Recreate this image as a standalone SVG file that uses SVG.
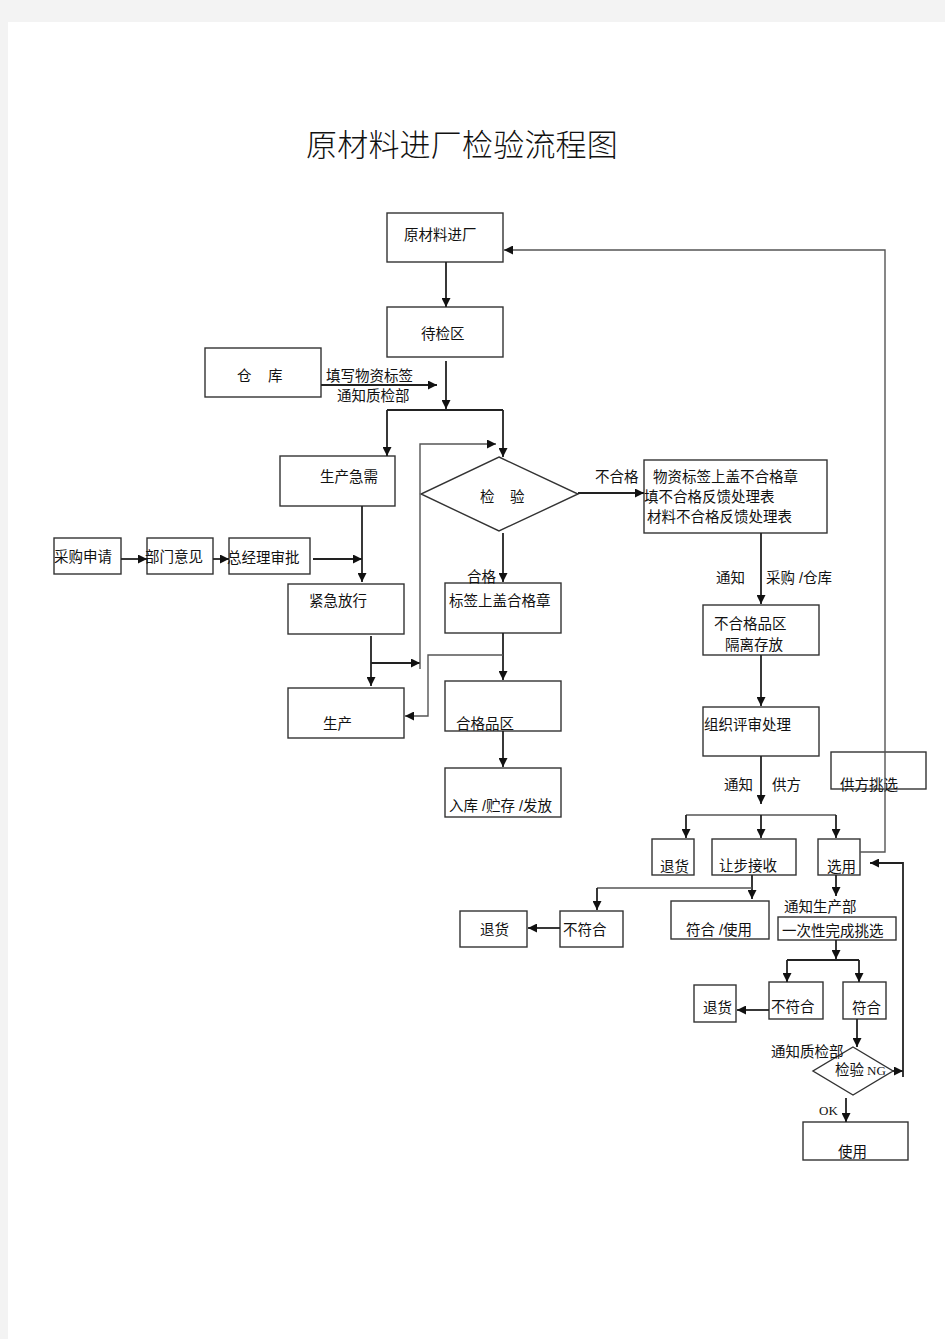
<svg xmlns="http://www.w3.org/2000/svg" width="945" height="1339" viewBox="0 0 945 1339">
<defs>
<style>
.bg{fill:#f3f3f3}
.page{fill:#fff}
.box{fill:#fff;stroke:#333;stroke-width:1.4}
.t{font-family:"Liberation Sans","Noto Sans CJK SC",sans-serif;font-size:14.5px;fill:#111}
.title{font-family:"Liberation Serif","Noto Sans CJK SC",serif;font-size:31px;fill:#111;font-weight:300;letter-spacing:0.2px}
.ln{fill:none;stroke:#222;stroke-width:1.8}
.lnt{fill:none;stroke:#555;stroke-width:1.4}
.arr{marker-end:url(#ah)}
.lat{font-family:"Liberation Serif",serif;font-size:13px}
</style>
<marker id="ah" markerUnits="userSpaceOnUse" markerWidth="9" markerHeight="9" refX="9" refY="4.5" orient="auto">
<path d="M0,0 L9,4.5 L0,9 z" fill="#111"/>
</marker>
</defs>
<rect class="bg" x="0" y="0" width="945" height="1339"/>
<rect class="page" x="8" y="22" width="937" height="1317"/>
<text class="title" x="306" y="156">原材料进厂检验流程图</text>

<g id="n1"><rect class="box" x="387" y="213" width="116" height="49"/><text class="t" x="404" y="240">原材料进厂</text></g>
<g id="n2"><rect class="box" x="387" y="307" width="116" height="50"/><text class="t" x="421" y="339">待检区</text></g>
<g id="n3"><rect class="box" x="205" y="348" width="116" height="49"/><text class="t" x="237" y="381">仓</text><text class="t" x="268" y="381">库</text></g>
<g id="n4"><rect class="box" x="280" y="456" width="115" height="50"/><text class="t" x="320" y="482">生产急需</text></g>
<g id="n5"><polygon class="box" points="499,457 578,494 499,531 421,494"/><text class="t" x="480" y="502">检</text><text class="t" x="510" y="502">验</text></g>
<g id="n6"><rect class="box" x="644" y="460" width="183" height="73"/><text class="t" x="653" y="482">物资标签上盖不合格章</text><text class="t" x="644" y="502">填不合格反馈处理表</text><text class="t" x="647" y="522">材料不合格反馈处理表</text></g>
<g id="n7"><rect class="box" x="54" y="538" width="67" height="36"/><text class="t" x="54" y="562">采购申请</text></g>
<g id="n8"><rect class="box" x="147" y="538" width="66" height="36"/><text class="t" x="145" y="562">部门意见</text></g>
<g id="n9"><rect class="box" x="229" y="538" width="81" height="36"/><text class="t" x="227" y="563">总经理审批</text></g>
<g id="n10"><rect class="box" x="288" y="584" width="116" height="50"/><text class="t" x="309" y="606">紧急放行</text></g>
<g id="n11"><rect class="box" x="445" y="583" width="116" height="50"/><text class="t" x="449" y="606">标签上盖合格章</text></g>
<g id="n12"><rect class="box" x="288" y="688" width="116" height="50"/><text class="t" x="323" y="729">生产</text></g>
<g id="n13"><rect class="box" x="445" y="681" width="116" height="50"/><text class="t" x="456" y="729">合格品区</text></g>
<g id="n14"><rect class="box" x="445" y="768" width="116" height="49"/><text class="t" x="449" y="811">入库 /贮存 /发放</text></g>
<g id="n15"><rect class="box" x="703" y="605" width="116" height="50"/><text class="t" x="714" y="629">不合格品区</text><text class="t" x="725" y="650">隔离存放</text></g>
<g id="n16"><rect class="box" x="703" y="707" width="116" height="49"/><text class="t" x="704" y="730">组织评审处理</text></g>
<g id="n17"><rect class="box" x="831" y="752" width="95" height="37"/><text class="t" x="840" y="790">供方挑选</text></g>
<g id="n18"><rect class="box" x="652" y="839" width="42" height="36"/><text class="t" x="660" y="872">退货</text></g>
<g id="n19"><rect class="box" x="712" y="839" width="84" height="36"/><text class="t" x="719" y="871">让步接收</text></g>
<g id="n20"><rect class="box" x="818" y="839" width="42" height="36"/><text class="t" x="827" y="872">选用</text></g>
<g id="n21"><rect class="box" x="460" y="911" width="67" height="36"/><text class="t" x="480" y="935">退货</text></g>
<g id="n22"><rect class="box" x="560" y="911" width="63" height="36"/><text class="t" x="563" y="935">不符合</text></g>
<g id="n23"><rect class="box" x="671" y="901" width="98" height="38"/><text class="t" x="686" y="935">符合 /使用</text></g>
<g id="n24"><rect class="box" x="778" y="917" width="118" height="23"/><text class="t" x="782" y="936">一次性完成挑选</text></g>
<g id="n25"><rect class="box" x="694" y="985" width="42" height="37"/><text class="t" x="703" y="1013">退货</text></g>
<g id="n26"><rect class="box" x="769" y="982" width="54" height="37"/><text class="t" x="771" y="1012">不符合</text></g>
<g id="n27"><rect class="box" x="843" y="982" width="43" height="37"/><text class="t" x="852" y="1013">符合</text></g>
<g id="n28"><polygon class="box" points="853,1047 893,1071 853,1095 813,1071"/><text class="t" x="835" y="1075">检验</text><text class="t lat" x="867" y="1075">NG</text></g>
<g id="n29"><rect class="box" x="803" y="1122" width="105" height="38"/><text class="t" x="838" y="1157">使用</text></g>

<g id="labels">
<text class="t" x="326" y="381">填写物资标签</text>
<text class="t" x="337" y="401">通知质检部</text>
<text class="t" x="595" y="482">不合格</text>
<text class="t" x="467" y="582">合格</text>
<text class="t" x="716" y="583">通知</text>
<text class="t" x="766" y="583">采购 /仓库</text>
<text class="t" x="724" y="790">通知</text>
<text class="t" x="772" y="790">供方</text>
<text class="t" x="784" y="912">通知生产部</text>
<text class="t" x="771" y="1057">通知质检部</text>
<text class="t lat" x="819" y="1115">OK</text>
</g>

<g id="connectors">
<path class="ln arr" d="M446,262 V307"/>
<path class="ln arr" d="M321,385 H437"/>
<path class="ln arr" d="M446,361 V409"/>
<path class="ln" d="M387,410 H503"/>
<path class="ln arr" d="M387,410 V456"/>
<path class="ln arr" d="M503,410 V457"/>
<path class="ln arr" d="M578,493 H644"/>
<path class="ln arr" d="M121,559 H147"/>
<path class="ln arr" d="M213,559 H229"/>
<path class="ln arr" d="M313,559 H362"/>
<path class="ln arr" d="M362,506 V582"/>
<path class="ln arr" d="M371,636 V686"/>
<path class="ln arr" d="M371,663 H420"/>
<path class="lnt arr" d="M420,669 V444 H496"/>
<path class="ln arr" d="M503,533 V582"/>
<path class="ln arr" d="M503,633 V680"/>
<path class="lnt arr" d="M503,655 H428 V716 H405"/>
<path class="ln arr" d="M503,731 V767"/>
<path class="ln arr" d="M761,533 V604"/>
<path class="ln arr" d="M761,655 V706"/>
<path class="ln arr" d="M761,756 V804"/>
<path class="lnt" d="M686,815 H836"/>
<path class="ln arr" d="M686,815 V838"/>
<path class="ln arr" d="M761,815 V838"/>
<path class="ln arr" d="M836,815 V838"/>
<path class="lnt arr" d="M860,852 H885 V250 H504"/>
<path class="ln arr" d="M752,875 V899"/>
<path class="lnt" d="M597,888 H752"/>
<path class="ln arr" d="M597,888 V910"/>
<path class="ln arr" d="M560,928 H528"/>
<path class="ln arr" d="M836,875 V896"/>
<path class="ln arr" d="M836,940 V959"/>
<path class="ln" d="M787,960 H859"/>
<path class="ln arr" d="M787,960 V982"/>
<path class="ln arr" d="M859,960 V982"/>
<path class="ln arr" d="M769,1010 H737"/>
<path class="ln arr" d="M857,1019 V1047"/>
<path class="ln arr" d="M893,1071 H903"/>
<path class="ln arr" d="M903,1077 V863 H870"/>
<path class="ln arr" d="M846,1098 V1122"/>
</g>
</svg>
